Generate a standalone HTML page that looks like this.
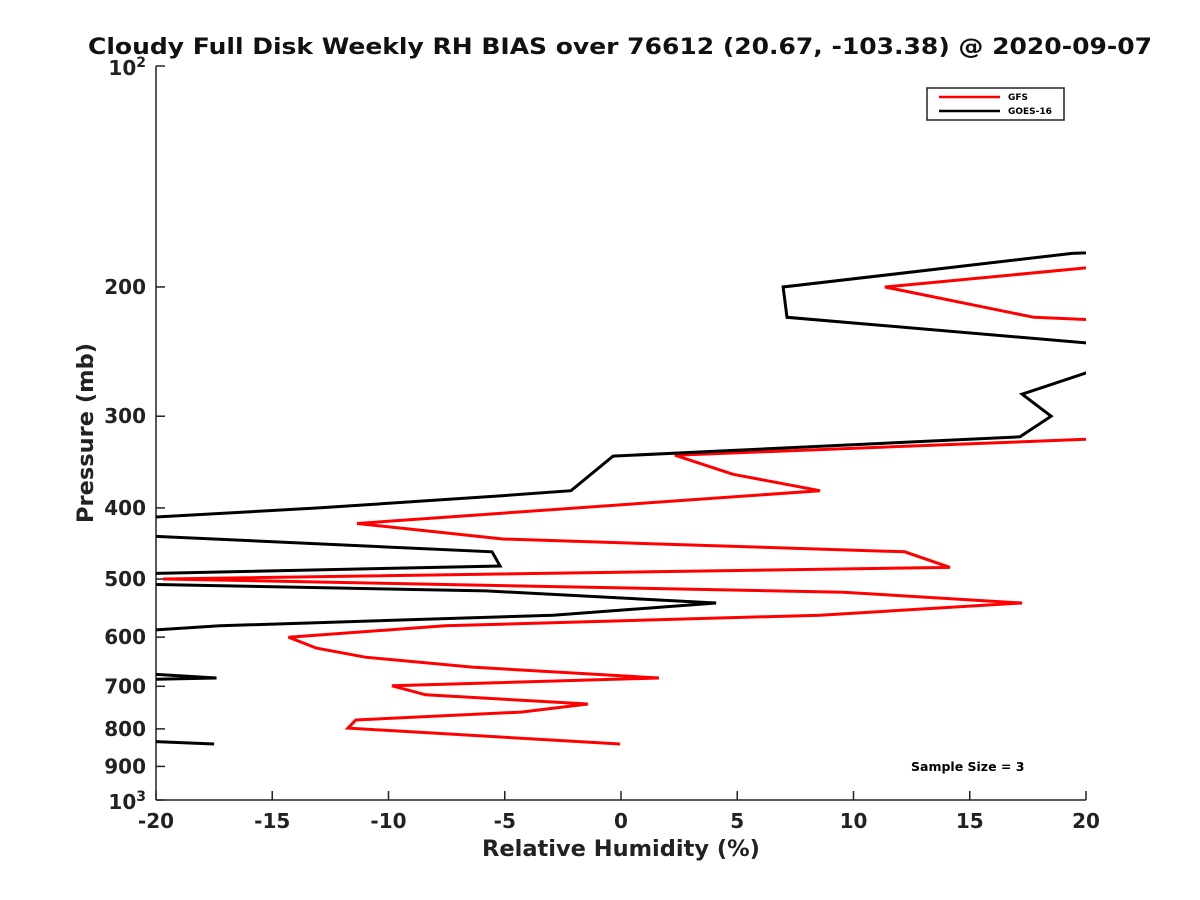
<!DOCTYPE html>
<html><head><meta charset="utf-8"><style>
body{margin:0;background:#fff;}
svg{display:block;font-family:"DejaVu Sans","Liberation Sans",sans-serif;}
</style></head><body>
<svg id="chart" width="1200" height="900">
<defs><clipPath id="clip"><rect x="156" y="66" width="930" height="734"/></clipPath></defs>
<rect width="1200" height="900" fill="#fff"/>
<text x="620" y="54" text-anchor="middle" font-size="22" font-weight="bold" fill="#111" textLength="1064" lengthAdjust="spacingAndGlyphs">Cloudy Full Disk Weekly RH BIAS over 76612 (20.67, -103.38) @ 2020-09-07</text>
<g id="axes"></g>
<g id="series" clip-path="url(#clip)"></g>
<g>
<rect x="927" y="88" width="137" height="32" fill="#fff" stroke="#222" stroke-width="1.5"/>
<line x1="939" y1="97" x2="1000" y2="97" stroke="#f00" stroke-width="2.5"/>
<text x="1008" y="100" font-size="9" font-weight="bold">GFS</text>
<line x1="939" y1="111" x2="1000" y2="111" stroke="#000" stroke-width="2.5"/>
<text x="1008" y="114" font-size="9" font-weight="bold">GOES-16</text>
</g>
<text x="911" y="771" font-size="12.5" font-weight="bold">Sample Size = 3</text>
<text x="621" y="856" text-anchor="middle" font-size="22.5" font-weight="bold" fill="#222">Relative Humidity (%)</text>
<text transform="translate(93,433) rotate(-90)" text-anchor="middle" font-size="22.5" font-weight="bold" fill="#222">Pressure (mb)</text>
</svg>
<script>
const xTicks=[-20,-15,-10,-5,0,5,10,15,20];
const yTicks=[200,300,400,500,600,700,800,900];
const goesRH=[24,19.4,6.97,7.14,25,25,17.25,18.5,17.16,-0.34,-2.15,-5.12,-13.0,-25,null,-25,-5.55,-5.2,-25,null,-25,-5.8,4.09,-2.92,-17.25,-25,null,-25,-17.4,-25,null,-25,-17.5];
const goesP=[178,180,200,220,246,232,280,300,320,340,379,385,400,420,null,430,459,480,495,null,505,519,539,560,579,600,null,660,682,690,null,820,839];
const gfsRH=[25,11.35,17.76,25,null,25,2.32,4.82,8.56,-11.35,-5.08,12.2,14.15,-19.7,9.55,17.25,8.56,-7.57,-14.3,-13.1,-11.0,-6.4,1.63,-9.85,-8.4,-1.42,-4.3,-11.4,-11.74,-0.04];
const gfsP=[182,200,220,225,null,318,339,360,379,420,441,459,482,500,521,539,560,579,600,621,639,659,682,699,719,740,759,778,798,839];
const X0=156,X1=1086,Y0=66,Y1=800;
const xs=v=>X0+(v+20)/40*(X1-X0);
const ys=p=>Y0+Math.log10(p/100)*(Y1-Y0);
const NS="http://www.w3.org/2000/svg";
function mk(t,a,parent){const e=document.createElementNS(NS,t);for(const k in a)e.setAttribute(k,a[k]);parent.appendChild(e);return e;}
const axes=document.getElementById('axes');
let e=mk('line',{x1:X0,y1:Y0,x2:X0,y2:Y1,stroke:'#222','stroke-width':1.5},axes);


e=mk('line',{x1:X0,y1:Y1,x2:X1,y2:Y1,stroke:'#222','stroke-width':1.5},axes);


xTicks.forEach(v=>{
 const x=xs(v);
 mk('line',{x1:x,y1:Y1,x2:x,y2:Y1-9,stroke:'#222','stroke-width':1.5},axes);
 const t=mk('text',{x:x,y:828,'text-anchor':'middle','font-size':20,'font-weight':'bold',fill:'#222'},axes);
 t.textContent=String(v);
 
 
});
yTicks.concat([100,1000]).forEach(p=>{
 const y=ys(p);
 mk('line',{x1:X0,y1:y,x2:X0+9,y2:y,stroke:'#222','stroke-width':1.5},axes);
});
yTicks.forEach(p=>{
 const t=mk('text',{x:146,y:ys(p)+7,'text-anchor':'end','font-size':20,'font-weight':'bold',fill:'#222'},axes);
 t.textContent=String(p);
 
 
});
[[100,'2'],[1000,'3']].forEach(([p,s])=>{
 const t=mk('text',{x:146,y:ys(p)+9,'text-anchor':'end','font-size':20,'font-weight':'bold',fill:'#222'},axes);
 t.innerHTML='10<tspan dy="-8" font-size="14">'+s+'</tspan>';
 
 
});
function path(rh,p){let d='',pen=false;for(let i=0;i<rh.length;i++){if(rh[i]===null){pen=false;continue;}d+=(pen?'L':'M')+xs(rh[i]).toFixed(1)+','+ys(p[i]).toFixed(1);pen=true;}return d;}
const sg=document.getElementById('series');
e=mk('path',{d:path(gfsRH,gfsP),fill:'none',stroke:'#f00','stroke-width':3,'stroke-linejoin':'miter'},sg);


e=mk('path',{d:path(goesRH,goesP),fill:'none',stroke:'#000','stroke-width':3,'stroke-linejoin':'miter'},sg);


</script>
</body></html>
